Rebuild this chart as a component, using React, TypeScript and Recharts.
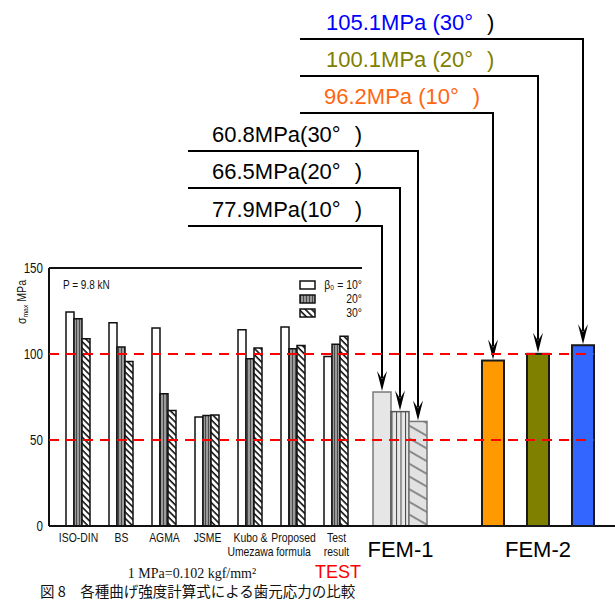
import React from 'react';
import { BarChart, Bar, XAxis, YAxis, ReferenceLine, Legend } from 'recharts';

// scanned comparison chart (Fig. 8)
const scanCategories = ['ISO-DIN', 'BS', 'AGMA', 'JSME', 'Kubo & Umezawa', 'Proposed formula', 'Test result'];
const scanTickLines = [['ISO-DIN'], ['BS'], ['AGMA'], ['JSME'], ['Kubo &', 'Umezawa'], ['Proposed', 'formula'], ['Test', 'result']];
const beta10 = [124.4, 118.2, 115.1, 63.4, 114.1, 115.7, 98.6];
const beta20 = [120.5, 104.0, 76.9, 64.3, 97.3, 103.1, 105.6];
const beta30 = [108.9, 95.7, 67.2, 64.5, 103.5, 105.0, 110.3];
const yTicks = [0, 50, 100, 150];
const guideValues = [100, 50];
const legendLabels = ['β₀ = 10°', '20°', '30°'];

// FEM results
const femAngles = [10, 20, 30];
const fem1Values = [77.9, 66.5, 60.8];
const fem2Values = [96.2, 100.1, 105.1];

const scanData = scanCategories.map((name, i) => ({ name, b10: beta10[i], b20: beta20[i], b30: beta30[i] }));
const femRow = (name: string, values: number[]) => {
  const row: any = { name };
  femAngles.forEach((a, i) => (row[`b${a}`] = values[i]));
  return row;
};
const fem1Data = [femRow('FEM-1', fem1Values)];
const fem2Data = [femRow('FEM-2', fem2Values)];

const W = 615;
const H = 600;
const AXIS_H = 40;
const MARGIN_TOP = 268;
const MARGIN_BOTTOM = H - 526 - AXIS_H;

const SANS = "'Liberation Sans', Arial, sans-serif";
const SERIF = "'Liberation Serif','DejaVu Serif',serif";
const SQUEEZE = 0.8; // the scan uses a narrow typeface

const fem1Leaders = [
  { lineY: 226, startX: 188, textX: 212, color: '#000', paren: '#000', sep: '' },
  { lineY: 188, startX: 188, textX: 212, color: '#000', paren: '#000', sep: '' },
  { lineY: 151, startX: 188, textX: 212, color: '#000', paren: '#000', sep: '' },
];
const fem2Leaders = [
  { lineY: 113, startX: 300, textX: 324, color: '#FF6611', paren: '#FF6611', sep: ' ' },
  { lineY: 76, startX: 300, textX: 326, color: '#808000', paren: '#808000', sep: ' ' },
  { lineY: 39, startX: 300, textX: 326, color: '#0000FF', paren: '#000', sep: ' ' },
];
const fem1Styles = [
  { fill: '#e6e6e6', stroke: '#7a7a7a', strokeWidth: 1.5 },
  { fill: 'url(#femVert)', stroke: '#555', strokeWidth: 1.5 },
  { fill: 'url(#femDiag)', stroke: '#777', strokeWidth: 1.5 },
];
const fem2Styles = [
  { fill: '#FF9900', stroke: '#1a1a1a', strokeWidth: 2 },
  { fill: '#808000', stroke: '#1a1a1a', strokeWidth: 2 },
  { fill: '#3366FF', stroke: '#1a1a1a', strokeWidth: 2 },
];

// bar with an arrow leader going up to its value label
const leaderShape = (style: any, lead: any, value: number, angle: number) => (p: any) => {
  const { x, y, width, height } = p;
  const cx = x + width / 2;
  return (
    <g>
      <rect x={x} y={y} width={width} height={height} {...style} />
      <polyline
        points={`${lead.startX},${lead.lineY} ${cx},${lead.lineY} ${cx},${y - 14}`}
        fill="none"
        stroke="#000"
        strokeWidth={2}
      />
      <polygon points={`${cx},${y - 1} ${cx - 5},${y - 21} ${cx},${y - 13} ${cx + 5},${y - 21}`} fill="#000" />
      <text x={lead.textX} y={lead.lineY - 9} fontSize={22} fontFamily={SANS} fill={lead.color}>
        {`${value}MPa${lead.sep}(${angle}°`}
        <tspan dx={14} fill={lead.paren}>)</tspan>
      </text>
    </g>
  );
};

// narrow text drawn at (x, y)
const Narrow = ({ x, y, size = 13, anchor = 'start', children }: any) => (
  <text
    transform={`translate(${x},${y}) scale(${SQUEEZE},1)`}
    x={0}
    y={0}
    textAnchor={anchor}
    fontSize={size}
    fontFamily={SANS}
    fill="#111"
  >
    {children}
  </text>
);

const ScanTick = (props: any) => {
  const { x, y, payload } = props;
  const idx = scanCategories.indexOf(payload.value);
  const lines = scanTickLines[idx] || [payload.value];
  return (
    <g>
      {lines.map((l, i) => (
        <Narrow key={i} x={x} y={y + 8 + i * 14} size={13} anchor="middle">
          {l}
        </Narrow>
      ))}
    </g>
  );
};

const YTick = (props: any) => {
  const { x, y, payload } = props;
  return (
    <Narrow x={x} y={y + 5} size={14.5} anchor="end">
      {payload.value}
    </Narrow>
  );
};

const YLabel = () => (
  <text transform="rotate(-90, 22, 302) translate(22,306) scale(0.85,1)" x={0} y={0} textAnchor="middle" fontSize={12.5} fontFamily={SANS} fill="#111">
    σ<tspan fontSize={8} dy={2}>max</tspan>
    <tspan dy={-2}>{'  MPa'}</tspan>
  </text>
);

const scanFills = ['#fff', 'url(#scanVert)', 'url(#scanDiag)'];

const ScanLegend = () => (
  <svg width={70} height={45}>
    {legendLabels.map((l, i) => (
      <g key={l}>
        <rect x={4} y={5 + i * 14} width={15} height={8} fill={scanFills[i]} stroke="#111" strokeWidth={1.5} />
        <Narrow x={66} y={13 + i * 14} size={13} anchor="end">
          {l}
        </Narrow>
      </g>
    ))}
  </svg>
);

const layer: React.CSSProperties = { position: 'absolute', left: 0, top: 0 };

export default function App() {
  return (
    <div style={{ position: 'relative', width: W, height: H, background: '#fff', overflow: 'hidden' }}>
      <style>{'body{margin:0}'}</style>
      <svg width={0} height={0} style={{ position: 'absolute' }}>
        <defs>
          <pattern id="scanVert" width={3} height={10} patternUnits="userSpaceOnUse">
            <rect width={3} height={10} fill="#9a9a9a" />
            <line x1={1.5} y1={0} x2={1.5} y2={10} stroke="#4a4a4a" strokeWidth={1} />
          </pattern>
          <pattern id="scanDiag" width={4.5} height={4.5} patternUnits="userSpaceOnUse" patternTransform="rotate(-45)">
            <rect width={4.5} height={4.5} fill="#fff" />
            <line x1={1} y1={0} x2={1} y2={4.5} stroke="#111" strokeWidth={1.6} />
          </pattern>
          <pattern id="femVert" width={4.5} height={10} patternUnits="userSpaceOnUse">
            <rect width={4.5} height={10} fill="#e8e8e8" />
            <line x1={0.5} y1={0} x2={0.5} y2={10} stroke="#444" strokeWidth={1} />
          </pattern>
          <pattern id="femDiag" width={11} height={11} patternUnits="userSpaceOnUse" patternTransform="rotate(-60)">
            <rect width={11} height={11} fill="#e2e2e2" />
            <line x1={1} y1={0} x2={1} y2={11} stroke="#333" strokeWidth={1} />
          </pattern>
        </defs>
      </svg>

      <div style={layer}>
        <BarChart
          width={W}
          height={H}
          data={scanData}
          margin={{ top: MARGIN_TOP, right: 253, bottom: MARGIN_BOTTOM, left: 9 }}
          barGap={0}
          barCategoryGap={9}
        >
          <XAxis
            dataKey="name"
            height={AXIS_H}
            padding={{ left: 8, right: 4 }}
            axisLine={{ stroke: '#111', strokeWidth: 2 }}
            tickLine={false}
            interval={0}
            tick={<ScanTick />}
          />
          <YAxis
            domain={[0, 150]}
            ticks={yTicks}
            width={40}
            interval={0}
            tickLine={false}
            tickSize={0}
            tickMargin={6}
            axisLine={{ stroke: '#111', strokeWidth: 2 }}
            tick={<YTick />}
            label={{ content: <YLabel /> }}
          />
          <Legend
            layout="vertical"
            align="center"
            verticalAlign="middle"
            content={() => <ScanLegend />}
            wrapperStyle={{ position: 'absolute', left: 296, top: 276, width: 70, height: 45 }}
          />
          <Bar dataKey="b10" fill={scanFills[0]} stroke="#111" strokeWidth={1.5} isAnimationActive={false} />
          <Bar dataKey="b20" fill={scanFills[1]} stroke="#111" strokeWidth={1.5} isAnimationActive={false} />
          <Bar dataKey="b30" fill={scanFills[2]} stroke="#111" strokeWidth={1.5} isAnimationActive={false} />
          <ReferenceLine y={150} stroke="#111" strokeWidth={2} />
        </BarChart>
      </div>

      <div style={layer}>
        <BarChart
          width={W}
          height={H}
          data={fem1Data}
          margin={{ top: MARGIN_TOP, right: 0, bottom: MARGIN_BOTTOM, left: 49 }}
          barGap={0}
          barCategoryGap={0}
        >
          <XAxis
            dataKey="name"
            height={AXIS_H}
            padding={{ left: 324, right: 187 }}
            axisLine={{ stroke: '#111', strokeWidth: 2 }}
            tickLine={false}
            tickMargin={9}
            tick={{ fontSize: 22, fill: '#000', fontFamily: SANS }}
          />
          <YAxis hide domain={[0, 150]} />
          {femAngles.map((a, i) => (
            <Bar
              key={a}
              dataKey={`b${a}`}
              isAnimationActive={false}
              shape={leaderShape(fem1Styles[i], fem1Leaders[i], fem1Values[i], a)}
            />
          ))}
        </BarChart>
      </div>

      <div style={layer}>
        <BarChart
          width={W}
          height={H}
          data={fem2Data}
          margin={{ top: MARGIN_TOP, right: 21, bottom: MARGIN_BOTTOM, left: 49 }}
          barGap={23}
          barCategoryGap={0}
        >
          <XAxis
            dataKey="name"
            height={AXIS_H}
            padding={{ left: 433, right: 0 }}
            axisLine={false}
            tickLine={false}
            tickMargin={9}
            tick={{ fontSize: 22, fill: '#000', fontFamily: SANS }}
          />
          <YAxis hide domain={[0, 150]} />
          {femAngles.map((a, i) => (
            <Bar
              key={a}
              dataKey={`b${a}`}
              isAnimationActive={false}
              shape={leaderShape(fem2Styles[i], fem2Leaders[i], fem2Values[i], a)}
            />
          ))}
          {guideValues.map((v) => (
            <ReferenceLine key={v} y={v} stroke="#FF0000" strokeWidth={2} strokeDasharray="10 7" />
          ))}
        </BarChart>
      </div>

      <svg width={W} height={H} style={{ ...layer, pointerEvents: 'none' }}>
        <Narrow x={63} y={289} size={12.5}>
          P = 9.8 kN
        </Narrow>
        <text x={338} y={578} fontSize={18} fill="#FF0000" textAnchor="middle" fontFamily={SANS}>
          TEST
        </text>
        <text x={192} y={578} fontSize={14} textAnchor="middle" fontFamily={SERIF} fill="#111">
          1 MPa=0.102 kgf/mm²
        </text>
        <text x={40} y={597} fontSize={14.5} fontFamily="'Noto Sans CJK JP',sans-serif" fill="#111">
          図 8　各種曲げ強度計算式による歯元応力の比較
        </text>
      </svg>
    </div>
  );
}
